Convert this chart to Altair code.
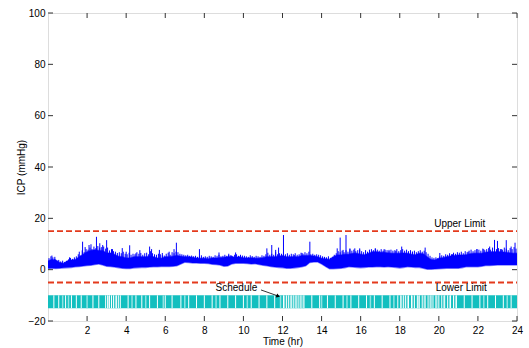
import altair as alt
import pandas as pd

# ---- data ----
# upper envelope of ICP trace, every 0.2 hr from 0 to 24
HI = [3.5, 4.0, 3.8, 2.8, 2.5,
      3.5, 3.8, 4.0, 5.0, 6.0,
      7.0, 7.5, 7.8, 7.5, 7.5,
      6.5, 6.5, 6.0, 5.2, 5.0,
      4.5, 4.5, 5.0, 5.0, 5.0,
      5.0, 5.2, 5.0, 4.5, 4.4,
      5.0, 5.0, 5.2, 5.5, 5.2,
      5.0, 5.0, 4.8, 4.5, 4.4,
      4.4, 4.3, 4.5, 4.5, 4.6,
      4.8, 5.0, 5.0, 4.8, 5.0,
      4.6, 4.5, 4.6, 4.4, 4.4,
      4.6, 5.0, 5.0, 5.0, 5.2,
      5.5, 5.0, 5.0, 5.0, 5.0,
      5.5, 5.5, 5.5, 5.3, 5.0,
      4.4, 4.3, 4.0, 5.0, 5.7,
      5.7, 6.0, 6.0, 6.4, 6.4,
      6.0, 5.8, 6.4, 7.0, 7.0,
      6.8, 6.8, 6.5, 6.4, 6.4,
      6.4, 6.5, 6.4, 6.0, 5.8,
      6.4, 6.2, 5.0, 4.0, 3.8,
      4.4, 4.6, 5.0, 5.3, 5.5,
      5.7, 5.7, 5.8, 6.2, 6.4,
      6.4, 6.4, 6.8, 7.0, 7.0,
      7.0, 7.0, 6.8, 6.6, 6.4,
      6.4]
# lower envelope, same times
LO = [0.5, 0.6, 0.5, 0.6, 0.7,
      0.8, 0.9, 1.1, 1.2, 1.4,
      1.6, 1.7, 2.0, 2.2, 1.8,
      1.3, 1.2, 1.0, 0.8, 0.6,
      0.5, 0.5, 0.7, 0.8, 0.9,
      0.9, 1.0, 1.1, 1.1, 1.2,
      1.2, 1.2, 1.3, 1.5, 2.2,
      2.9, 2.8, 2.6, 2.6, 2.5,
      2.5, 2.4, 2.1, 2.0, 1.8,
      1.3, 1.4, 2.2, 2.5, 2.5,
      2.5, 2.4, 2.2, 2.3, 2.0,
      1.7, 1.5, 1.2, 1.0, 0.9,
      0.8, 0.6, 0.6, 0.7, 0.9,
      1.1, 1.5, 2.8, 3.0, 3.0,
      2.2, 1.2, 0.4, 0.4, 0.5,
      0.6, 0.8, 1.1, 1.0, 0.9,
      0.8, 0.9, 1.0, 1.0, 1.1,
      1.1, 1.0, 1.1, 1.0, 0.9,
      0.7, 0.9, 1.1, 1.0, 0.9,
      0.9, 0.6, 0.2, 0.2, 0.3,
      0.4, 0.5, 0.6, 0.6, 0.6,
      0.6, 0.8, 1.1, 1.1, 1.1,
      1.1, 1.3, 1.6, 1.6, 1.7,
      1.8, 1.8, 1.8, 1.8, 1.8,
      1.8]
STEP = 0.2

# short peaks of the trace, every 0.1 hr starting at 0.05 hr
MINOR_START = 0.05
MINOR_STEP = 0.1
MINOR = [4.5, 5.2, 4.8, 4.2, 3.6, 3.8, 3.2, 3.5, 3.0, 3.4,
         4.0, 4.6, 4.2, 4.8, 5.2, 6.0, 5.5, 7.5, 6.8, 8.0,
         7.8, 8.6, 8.0, 9.0, 8.4, 9.2, 8.6, 8.8, 9.0, 8.2,
         8.6, 7.5, 8.0, 7.2, 7.0, 6.5, 6.8, 6.4, 7.0, 6.2,
         6.0, 6.6, 5.8, 6.2, 6.0, 6.8, 6.2, 6.5, 5.8, 6.4,
         6.6, 6.0, 7.2, 6.4, 6.0, 5.8, 6.2, 6.0, 5.6, 5.5,
         6.2, 6.6, 5.8, 6.8, 6.4, 7.0, 6.8, 6.2, 6.0, 5.8,
         5.6, 5.8, 5.4, 5.5, 5.2, 5.4, 5.0, 5.2, 5.6, 5.0,
         5.2, 5.0, 5.4, 5.2, 5.0, 5.6, 5.4, 5.8, 5.2, 5.4,
         5.8, 5.4, 6.2, 5.6, 5.2, 5.8, 6.0, 5.4, 5.8, 5.5,
         5.4, 5.2, 5.0, 5.6, 5.3, 5.0, 5.4, 5.2, 5.0, 5.6,
         5.4, 6.0, 6.6, 5.8, 6.2, 5.8, 6.8, 6.0, 6.4, 6.2,
         6.8, 6.0, 6.4, 5.8, 6.2, 6.0, 6.4, 5.8, 6.0, 6.6,
         6.2, 6.8, 6.4, 7.0, 6.0, 6.2, 5.8, 6.0, 5.8, 5.6,
         5.2, 5.0, 4.8, 5.2, 4.6, 5.0, 5.8, 6.4, 7.2, 6.8,
         7.4, 6.8, 7.6, 7.0, 8.0, 7.4, 7.8, 7.2, 7.6, 7.8,
         7.2, 6.8, 7.6, 7.0, 7.8, 8.0, 7.6, 8.2, 7.8, 7.4,
         8.0, 7.4, 7.8, 7.6, 7.2, 7.8, 7.4, 7.6, 8.0, 7.2,
         7.6, 8.0, 7.4, 7.8, 7.2, 7.6, 7.0, 7.4, 6.8, 7.2,
         7.6, 7.0, 7.4, 6.8, 6.2, 5.4, 4.8, 4.6, 4.8, 4.5,
         5.2, 5.6, 5.4, 6.0, 5.8, 6.4, 6.0, 6.6, 6.2, 6.8,
         6.6, 7.0, 6.4, 7.2, 6.8, 7.4, 7.8, 7.2, 7.6, 8.0,
         7.8, 7.4, 8.2, 7.6, 8.0, 8.4, 7.8, 8.6, 8.2, 8.0,
         8.4, 8.0, 7.8, 8.6, 8.2, 7.6, 8.4, 8.0, 8.8, 8.2]

SPIKE_T = [0.2, 0.35, 1.1, 1.6, 1.77, 1.9, 2.1, 2.2, 2.48, 2.65, 2.8, 3.0, 3.3,
           3.8, 4.0, 4.18, 4.5, 4.7, 5.2, 5.3, 5.7, 5.85, 6.2, 6.45, 6.57, 7.75,
           8.75, 9.25, 9.4, 9.6, 11.2, 11.45, 11.65, 11.8, 12.05, 12.6, 13.0, 13.4,
           14.8, 14.95, 15.1, 15.25, 15.45, 15.7, 15.95, 16.75, 17.2, 17.45, 17.8,
           18.1, 18.65, 19.3, 20.05, 20.7, 21.5, 21.95, 22.3, 22.6, 22.85, 23.0,
           23.2, 23.45, 23.7, 23.9]
SPIKE_V = [5.5, 5.0, 4.8, 7.0, 10.9, 8.8, 9.6, 9.9, 12.8, 10.3, 9.6, 11.5, 8.0,
           8.4, 7.0, 9.5, 6.4, 7.6, 9.0, 8.0, 7.7, 6.5, 7.0, 8.0, 10.5, 8.0,
           6.7, 5.7, 5.5, 6.7, 8.3, 9.6, 7.7, 8.6, 13.5, 5.7, 6.5, 10.9,
           8.3, 12.5, 7.7, 13.5, 8.3, 8.3, 8.3, 8.3, 8.0, 7.7, 7.3,
           9.0, 7.0, 8.6, 6.5, 6.0, 7.0, 8.0, 8.0, 9.0, 11.6, 11.2,
           8.0, 11.5, 9.0, 10.5]

UPPER_LIMIT = 15
LOWER_LIMIT = -5
SCHED_TOP = -10
SCHED_BOTTOM = -15
SCHED_GAPS = [0.3, 0.55, 0.9, 1.2, 1.45, 1.7, 2.3, 2.6,
              2.95, 3.05, 3.15, 3.25, 3.35, 3.5, 3.6, 3.7,
              4.1, 4.5, 4.8, 5.2, 5.6, 6.0, 6.35, 6.8, 7.2, 7.6, 8.0, 8.4, 8.8,
              9.2, 9.6, 10.0, 10.4, 10.8, 11.2, 11.6,
              12.05, 12.2, 12.3, 12.45, 12.55, 12.7, 12.8, 12.95, 13.1,
              13.5, 13.9, 14.3, 14.7, 15.1, 15.5, 15.9, 16.3, 16.7, 17.1, 17.5,
              17.9, 18.05, 18.2, 18.3, 18.45, 18.6, 18.75, 18.9, 19.0, 19.15,
              19.3, 19.45, 19.6, 19.7, 19.85, 20.0, 20.15, 20.3, 20.45, 20.6,
              20.75, 20.9, 21.3, 21.7, 22.1, 22.5, 22.9, 23.3, 23.7]
SCHED_LIGHT = [0.75, 1.05, 2.0, 3.1, 3.45, 4.3, 5.0, 5.9, 7.0, 8.6, 10.2, 11.9,
               12.1, 12.4, 12.65, 12.9, 13.05, 14.0, 15.3, 16.5, 17.7, 18.1, 18.4,
               18.65, 18.95, 19.25, 19.55, 19.9, 20.25, 20.55, 20.85, 22.3, 23.5]

X_TICKS = [2, 4, 6, 8, 10, 12, 14, 16, 18, 20, 22, 24]
Y_TICKS = [-20, 0, 20, 40, 60, 80, 100]
X_DOMAIN = [0, 24]
Y_DOMAIN = [-20, 100]

LABELS = ["Upper Limit", "Lower Limit", "Schedule"]
LABEL_T = [21.07, 21.15, 9.64]
LABEL_V = [17.7, -7.3, -7.2]
ARROW_T = [10.9, 11.75]
ARROW_V = [-7.9, -10.2]

# ---- tables ----
band = pd.DataFrame({"t": [i * STEP for i in range(len(HI))], "hi": HI, "lo": LO})
spikes = pd.DataFrame({"t": SPIKE_T, "v": SPIKE_V,
                       "base": [LO[int(round(t / STEP))] + 1 for t in SPIKE_T]})
minor_t = [MINOR_START + i * MINOR_STEP for i in range(len(MINOR))]
minor = pd.DataFrame({"t": minor_t, "v": MINOR,
                      "base": [LO[min(int(round(t / STEP)), len(LO) - 1)] + 1
                               for t in minor_t]})
limits = pd.DataFrame({"v": [UPPER_LIMIT, LOWER_LIMIT],
                       "x0": [X_DOMAIN[0]] * 2, "x1": [X_DOMAIN[1]] * 2})
sched = pd.DataFrame({"x0": [X_DOMAIN[0]], "x1": [X_DOMAIN[1]],
                      "y0": [SCHED_BOTTOM], "y1": [SCHED_TOP]})
gaps = pd.DataFrame({"t": SCHED_GAPS, "y0": SCHED_BOTTOM, "y1": SCHED_TOP})
light = pd.DataFrame({"t": SCHED_LIGHT, "y0": SCHED_BOTTOM, "y1": SCHED_TOP})
labels = pd.DataFrame({"txt": LABELS, "t": LABEL_T, "v": LABEL_V})
arrow = pd.DataFrame({"t": ARROW_T, "v": ARROW_V})
arrow_head = arrow.iloc[[1]]

W, H = 469, 308
TX = 5 / W * (X_DOMAIN[1] - X_DOMAIN[0])
TY = 5 / H * (Y_DOMAIN[1] - Y_DOMAIN[0])
xt = pd.DataFrame({"x": X_TICKS})
yt = pd.DataFrame({"y": Y_TICKS})
bottom_ticks = xt.assign(y0=Y_DOMAIN[0], y1=Y_DOMAIN[0] + TY)
top_ticks = xt.assign(y0=Y_DOMAIN[1], y1=Y_DOMAIN[1] - TY)
left_ticks = yt.assign(x0=X_DOMAIN[0], x1=X_DOMAIN[0] + TX)
right_ticks = yt.assign(x0=X_DOMAIN[1], x1=X_DOMAIN[1] - TX)

FONT = "Liberation Sans"
xs = alt.Scale(domain=X_DOMAIN, nice=False, zero=False)
ys = alt.Scale(domain=Y_DOMAIN, nice=False, zero=False)
xaxis = alt.Axis(values=X_TICKS, ticks=False, domain=False, grid=False,
                 labelFontSize=10, labelColor="black", labelPadding=4,
                 labelFlush=False,
                 title="Time (hr)", titleFontSize=10, titleFontWeight="normal",
                 titleColor="black", titlePadding=1, labelFont=FONT, titleFont=FONT)
yaxis = alt.Axis(values=Y_TICKS, ticks=False, domain=False, grid=False,
                 labelFontSize=10, labelColor="black", labelPadding=3,
                 labelFlush=False,
                 title="ICP (mmHg)", titleFontSize=10, titleFontWeight="normal",
                 titleColor="black", titlePadding=2, labelFont=FONT, titleFont=FONT)

BLUE = "#0000ff"
RED = "#e43a1c"
TEAL = "#12bfbf"

fringe = alt.Chart(band).transform_calculate(
    hi2="datum.hi + 0.3", lo2="datum.lo - 0.3"
).mark_area(color="#8a8aff").encode(
    x=alt.X("t:Q", scale=xs, axis=xaxis),
    y=alt.Y("hi2:Q", scale=ys, axis=yaxis),
    y2="lo2:Q")
area = alt.Chart(band).mark_area(color=BLUE).encode(
    x=alt.X("t:Q", scale=xs), y=alt.Y("hi:Q", scale=ys), y2="lo:Q")
minor_rules = alt.Chart(minor).mark_rule(color=BLUE, strokeWidth=1).encode(
    x=alt.X("t:Q", scale=xs), y=alt.Y("base:Q", scale=ys), y2="v:Q")
spike_rules = alt.Chart(spikes).mark_rule(color=BLUE, strokeWidth=1).encode(
    x=alt.X("t:Q", scale=xs), y=alt.Y("base:Q", scale=ys), y2="v:Q")
limit_rules = alt.Chart(limits).mark_rule(color=RED, strokeWidth=1.8,
                                          strokeDash=[6, 3]).encode(
    x=alt.X("x0:Q", scale=xs), x2="x1:Q", y=alt.Y("v:Q", scale=ys))
sched_rect = alt.Chart(sched).mark_rect(color=TEAL).encode(
    x=alt.X("x0:Q", scale=xs), x2="x1:Q", y=alt.Y("y0:Q", scale=ys), y2="y1:Q")
light_rules = alt.Chart(light).mark_rule(color="#8fe2e2", strokeWidth=1.5).encode(
    x=alt.X("t:Q", scale=xs), y=alt.Y("y0:Q", scale=ys), y2="y1:Q")
gap_rules = alt.Chart(gaps).mark_rule(color="white", strokeWidth=1).encode(
    x=alt.X("t:Q", scale=xs), y=alt.Y("y0:Q", scale=ys), y2="y1:Q")
texts = alt.Chart(labels).mark_text(font=FONT, fontSize=10, color="black").encode(
    x=alt.X("t:Q", scale=xs), y=alt.Y("v:Q", scale=ys), text="txt:N")
arrow_line = alt.Chart(arrow).mark_line(color="black", strokeWidth=0.8).encode(
    x=alt.X("t:Q", scale=xs), y=alt.Y("v:Q", scale=ys))
arrow_tip = alt.Chart(arrow_head).mark_point(shape="triangle", filled=True,
                                             color="black", size=18, angle=110,
                                             opacity=1).encode(
    x=alt.X("t:Q", scale=xs), y=alt.Y("v:Q", scale=ys))

TICK_COLOR = "#333333"
bt = alt.Chart(bottom_ticks).mark_rule(color=TICK_COLOR, strokeWidth=1).encode(
    x=alt.X("x:Q", scale=xs), y=alt.Y("y0:Q", scale=ys), y2="y1:Q")
tt = alt.Chart(top_ticks).mark_rule(color=TICK_COLOR, strokeWidth=1).encode(
    x=alt.X("x:Q", scale=xs), y=alt.Y("y0:Q", scale=ys), y2="y1:Q")
lt = alt.Chart(left_ticks).mark_rule(color=TICK_COLOR, strokeWidth=1).encode(
    x=alt.X("x0:Q", scale=xs), x2="x1:Q", y=alt.Y("y:Q", scale=ys))
rt = alt.Chart(right_ticks).mark_rule(color=TICK_COLOR, strokeWidth=1).encode(
    x=alt.X("x0:Q", scale=xs), x2="x1:Q", y=alt.Y("y:Q", scale=ys))

chart = alt.layer(
    fringe, area, minor_rules, spike_rules, limit_rules, sched_rect, light_rules,
    gap_rules, texts, arrow_line, arrow_tip, bt, tt, lt, rt
).properties(
    width=W, height=H,
    autosize=alt.AutoSizeParams(type="none"),
    padding={"left": 48, "top": 13, "right": 12, "bottom": 27},
).configure_view(stroke=TICK_COLOR, strokeWidth=1).configure(font=FONT)

chart.save("out.html", embed_options={"renderer": "svg", "actions": False})
